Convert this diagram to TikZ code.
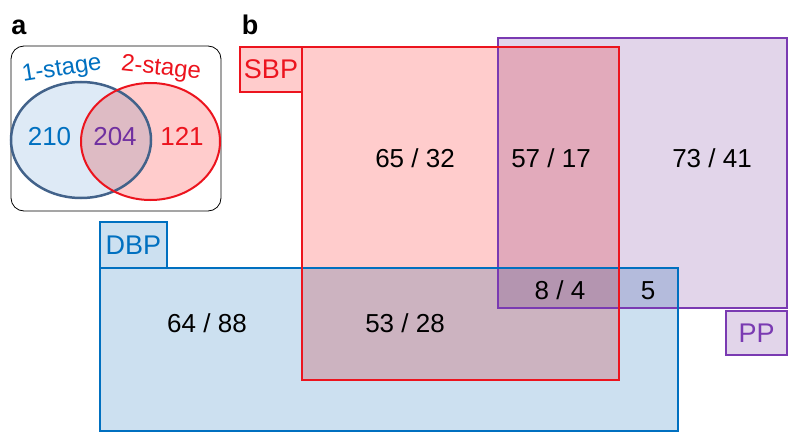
\documentclass[tikz,border=0pt]{standalone}
\usepackage{fontspec}
\setmainfont{Liberation Sans}
\usetikzlibrary{shapes.geometric}
\definecolor{sbpfill}{RGB}{255,204,204}
\definecolor{sbpline}{RGB}{236,20,30}
\definecolor{ppfill}{RGB}{226,213,234}
\definecolor{ppline}{RGB}{122,58,178}
\definecolor{dbpfill}{RGB}{204,224,240}
\definecolor{dbpline}{RGB}{0,112,192}
\definecolor{onefill}{RGB}{222,234,246}
\definecolor{oneline}{RGB}{66,98,138}
\definecolor{onetext}{RGB}{0,112,192}
\definecolor{twotext}{RGB}{236,20,30}
\definecolor{bothtext}{RGB}{112,48,160}
\begin{document}
\begin{tikzpicture}[x=1pt,y=-1pt,
  region/.style={rectangle,inner sep=0pt,outer sep=0pt},
  regionline/.style={line width=2pt},
  labbox/.style={rectangle,inner sep=0pt,outer sep=0pt,line width=1.5pt,
    font=\fontsize{27}{30}\selectfont},
  num/.style={anchor=base,inner sep=0pt,font=\fontsize{26}{30}\selectfont},
  stagetext/.style={inner sep=0pt,font=\fontsize{24}{28}\selectfont},
  panel/.style={anchor=base,inner sep=0pt,font=\bfseries\fontsize{27}{30}\selectfont},
  venn/.style={ellipse,inner sep=0pt,outer sep=0pt}]
\useasboundingbox (0,0) rectangle (800,444);

% ---------------- panel a ----------------
\node[panel] (pa) at (19,35) {a};
\node[draw=black,line width=0.8pt,rounded corners=13pt,minimum width=210pt,
  minimum height=165pt,inner sep=0pt] (frame) at (116,128.5) {};
\begin{scope}[blend mode=multiply]
  \node[venn,fill=onefill,minimum width=140pt,minimum height=116pt] (one) at (81,140) {};
  \node[venn,fill=sbpfill,minimum width=139pt,minimum height=117pt] (two) at (150.5,141.5) {};
\end{scope}
\draw[oneline,line width=2.5pt] (one.center) ellipse [x radius=70pt,y radius=58pt];
\draw[sbpline,line width=2pt] (two.center) ellipse [x radius=69.5pt,y radius=58.5pt];

\node[stagetext,text=onetext,rotate=9] (onelab) at (62,70) {1-stage};
\node[stagetext,text=twotext,rotate=-6] (twolab) at (161,69) {2-stage};

\node[num,text=onetext] (n210) at (49.5,145) {210};
\node[num,text=bothtext] (n204) at (115,145) {204};
\node[num,text=twotext] (n121) at (182,145) {121};

% ---------------- panel b ----------------
\node[panel] (pb) at (250,35) {b};
\begin{scope}[blend mode=multiply]
  \node[region,fill=ppfill,minimum width=289pt,minimum height=270pt] (pp) at (642.5,173) {};
  \node[region,fill=sbpfill,minimum width=317pt,minimum height=333pt] (sbp) at (460.5,213.5) {};
  \node[region,fill=dbpfill,minimum width=578pt,minimum height=163pt] (dbp) at (389,349.5) {};
\end{scope}
\draw[regionline,draw=ppline] (pp.north west) rectangle (pp.south east);
\draw[regionline,draw=dbpline] (dbp.north west) rectangle (dbp.south east);
\draw[regionline,draw=sbpline] (sbp.north west) rectangle (sbp.south east);

\node[labbox,fill=sbpfill,draw=sbpline,text=sbpline,minimum width=62pt,minimum height=45pt] (sbplab) at (271,69.5) {SBP};
\node[labbox,fill=dbpfill,draw=dbpline,text=dbpline,minimum width=67pt,minimum height=46pt] (dbplab) at (133.5,245) {DBP};
\node[labbox,fill=ppfill,draw=ppline,text=ppline,minimum width=61pt,minimum height=44pt] (pplab) at (756.5,333) {PP};

\node[num] (c1) at (415,167) {65 / 32};
\node[num] (c2) at (551,167) {57 / 17};
\node[num] (c3) at (712,167) {73 / 41};
\node[num] (c4) at (560,299.5) {8 / 4};
\node[num] (c5) at (648,299.5) {5};
\node[num] (c6) at (207,332) {64 / 88};
\node[num] (c7) at (405,332) {53 / 28};
\end{tikzpicture}
\end{document}
